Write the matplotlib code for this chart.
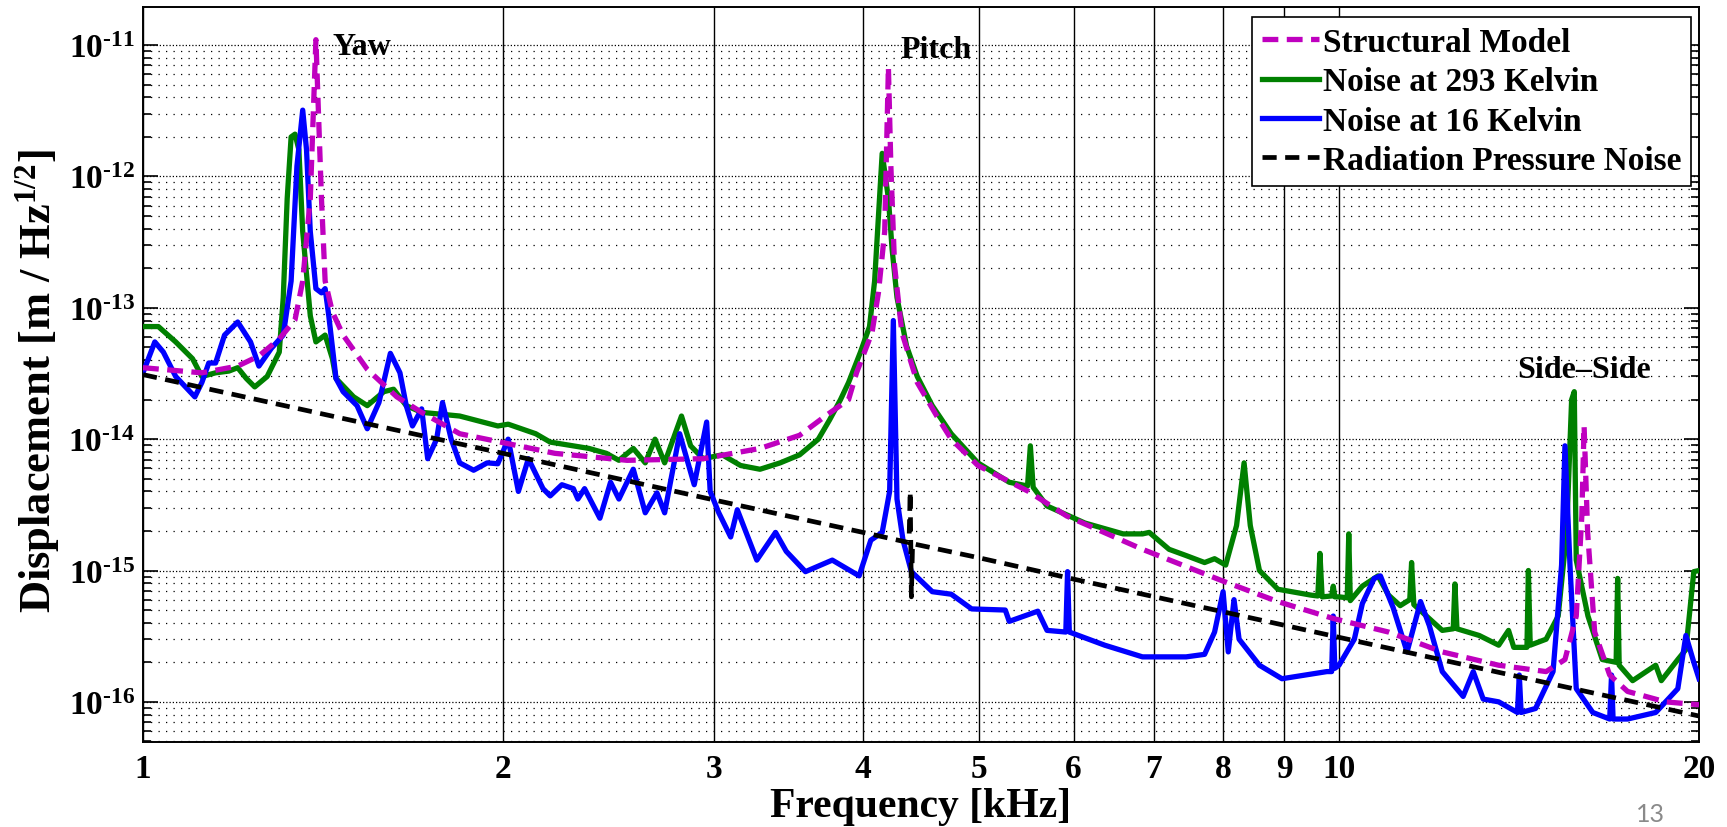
import numpy as np
import matplotlib.pyplot as plt
from matplotlib.ticker import FixedLocator, FixedFormatter, NullFormatter

plt.rcParams['font.family'] = ['Liberation Serif', 'DejaVu Serif']
plt.rcParams['font.weight'] = 'bold'
plt.rcParams['mathtext.fontset'] = 'custom'
plt.rcParams['mathtext.rm'] = 'Liberation Serif:bold'
plt.rcParams['mathtext.it'] = 'Liberation Serif:bold'
plt.rcParams['mathtext.bf'] = 'Liberation Serif:bold'

# Frequencia em kHz, deslocamento em m/sqrt(Hz)
f_modelo = [1.00, 1.12, 1.20, 1.25, 1.30, 1.34, 1.36, 1.38, 1.395, 1.41, 1.42, 1.44, 1.47,
            1.54, 1.63, 1.71, 1.84, 1.99, 2.21, 2.54, 2.94, 3.28, 3.54, 3.72, 3.89, 3.95,
            4.07, 4.12, 4.17, 4.20, 4.22, 4.25, 4.31, 4.44, 4.61, 4.74, 4.99, 5.50, 5.92,
            6.85, 8.0, 8.89, 9.9, 11.0, 12.2, 13.6, 14.9, 15.45, 15.79, 15.96, 16.03, 16.14,
            16.36, 16.84, 17.43, 18.75, 20.0]
d_modelo = [3.5e-14, 3.2e-14, 3.6e-14, 4.3e-14, 5.8e-14, 8.1e-14, 1.6e-13, 6.8e-13, 1.1e-11,
            6.8e-13, 1.6e-13, 9.3e-14, 6.2e-14, 3.4e-14, 2.1e-14, 1.6e-14, 1.1e-14, 9.5e-15,
            7.8e-15, 6.9e-15, 7.1e-15, 8.5e-15, 1.07e-14, 1.5e-14, 2.0e-14, 3.2e-14, 6.5e-14,
            1.3e-13, 3.8e-13, 6.8e-12, 1.2e-12, 2.1e-13, 6.5e-14, 2.7e-14, 1.5e-14, 1.0e-14,
            6.3e-15, 4.0e-15, 2.6e-15, 1.45e-15, 8.3e-16, 5.8e-16, 4.3e-16, 3.4e-16, 2.4e-16,
            1.9e-16, 1.7e-16, 2.1e-16, 4.5e-16, 2.6e-15, 1.26e-14, 1.95e-15, 3.4e-16, 1.6e-16,
            1.2e-16, 1.0e-16, 9.5e-17]

f_293 = [1.00, 1.03, 1.065, 1.10, 1.12, 1.15, 1.18, 1.20, 1.22, 1.24, 1.27, 1.30, 1.31, 1.32,
         1.33, 1.34, 1.35, 1.36, 1.38, 1.395, 1.42, 1.44, 1.45, 1.50, 1.54, 1.59, 1.62, 1.66,
         1.71, 1.84, 1.98, 2.02, 2.13, 2.19, 2.36, 2.44, 2.50, 2.57, 2.63, 2.68, 2.73, 2.82,
         2.87, 2.94, 3.05, 3.16, 3.28, 3.41, 3.54, 3.67, 3.75, 3.83, 3.89, 3.98, 4.05, 4.09,
         4.12, 4.15, 4.20, 4.23, 4.27, 4.35, 4.44, 4.57, 4.74, 4.99, 5.30, 5.49, 5.52, 5.55,
         5.70, 6.13, 6.60, 6.85, 6.94, 7.21, 7.45, 7.72, 7.87, 8.04, 8.21, 8.33, 8.43, 8.58,
         8.89, 9.47, 9.60, 9.64, 9.68, 9.86, 9.89, 9.92, 10.0, 10.16, 10.19, 10.22, 10.46,
         10.78, 11.0, 11.25, 11.46, 11.50, 11.55, 11.9, 12.2, 12.46, 12.50, 12.55, 13.1, 13.6,
         13.86, 14.0, 14.36, 14.40, 14.45, 14.9, 15.25, 15.5, 15.65, 15.73, 15.79, 16.15,
         16.6, 17.05, 17.10, 17.15, 17.6, 18.4, 18.6, 19.2, 19.5, 19.8, 20.0]
d_293 = [7.2e-14, 7.2e-14, 5.5e-14, 4.1e-14, 3.0e-14, 3.2e-14, 3.3e-14, 3.5e-14, 2.9e-14,
         2.5e-14, 3.0e-14, 4.6e-14, 1.2e-13, 6.8e-13, 2.0e-12, 2.1e-12, 1.6e-12, 3.8e-13,
         8.7e-14, 5.5e-14, 6.2e-14, 4.1e-14, 2.9e-14, 2.1e-14, 1.8e-14, 2.3e-14, 2.4e-14,
         1.8e-14, 1.6e-14, 1.5e-14, 1.26e-14, 1.3e-14, 1.1e-14, 9.5e-15, 8.5e-15, 7.8e-15,
         6.9e-15, 8.5e-15, 6.6e-15, 1.0e-14, 6.6e-15, 1.5e-14, 8.9e-15, 7.1e-15, 7.6e-15,
         6.3e-15, 5.9e-15, 6.6e-15, 7.6e-15, 1.0e-14, 1.4e-14, 2.0e-14, 2.7e-14, 4.6e-14,
         7.2e-14, 1.6e-13, 5.0e-13, 1.5e-12, 6.8e-13, 2.8e-13, 1.2e-13, 5.1e-14, 3.0e-14,
         1.8e-14, 1.1e-14, 6.6e-15, 4.7e-15, 4.4e-15, 8.9e-15, 4.3e-15, 3.1e-15, 2.3e-15,
         1.9e-15, 1.9e-15, 1.95e-15, 1.45e-15, 1.3e-15, 1.15e-15, 1.23e-15, 1.1e-15, 2.2e-15,
         6.6e-15, 2.2e-15, 1.0e-15, 7.2e-16, 6.5e-16, 6.4e-16, 1.35e-15, 6.3e-16, 6.4e-16,
         7.6e-16, 6.3e-16, 6.3e-16, 6.2e-16, 1.9e-15, 5.9e-16, 7.6e-16, 9.1e-16, 6.5e-16,
         5.4e-16, 6.0e-16, 1.15e-15, 5.5e-16, 4.3e-16, 3.5e-16, 3.6e-16, 7.9e-16, 3.6e-16,
         3.2e-16, 2.7e-16, 3.5e-16, 2.6e-16, 2.6e-16, 1.0e-15, 2.7e-16, 3.0e-16, 4.5e-16,
         1.95e-15, 2.0e-14, 2.3e-14, 1.2e-15, 4.5e-16, 2.1e-16, 2.0e-16, 8.7e-16, 1.9e-16,
         1.45e-16, 1.9e-16, 1.45e-16, 2.1e-16, 2.5e-16, 9.8e-16, 1.0e-15]

f_16 = [1.00, 1.023, 1.04, 1.065, 1.105, 1.12, 1.135, 1.15, 1.17, 1.20, 1.23, 1.25, 1.28,
        1.31, 1.33, 1.345, 1.36, 1.37, 1.38, 1.395, 1.41, 1.42, 1.43, 1.45, 1.47, 1.51, 1.54,
        1.575, 1.61, 1.64, 1.66, 1.68, 1.71, 1.73, 1.76, 1.78, 1.81, 1.84, 1.89, 1.94, 1.98,
        2.02, 2.06, 2.10, 2.16, 2.19, 2.24, 2.29, 2.31, 2.34, 2.41, 2.46, 2.50, 2.57, 2.63,
        2.69, 2.73, 2.81, 2.89, 2.96, 2.98, 3.03, 3.10, 3.14, 3.26, 3.38, 3.45, 3.58, 3.77,
        3.97, 4.06, 4.15, 4.21, 4.24, 4.27, 4.32, 4.39, 4.57, 4.74, 4.93, 5.26, 5.30, 5.60,
        5.70, 5.91, 5.93, 5.95, 6.37, 6.85, 7.45, 7.72, 7.87, 8.00, 8.08, 8.17, 8.25, 8.58,
        8.96, 9.37, 9.77, 9.86, 9.89, 9.92, 10.0, 10.3, 10.46, 10.7, 10.83, 11.1, 11.4, 11.7,
        11.9, 12.2, 12.7, 12.95, 13.2, 13.6, 14.1, 14.15, 14.2, 14.6, 15.1, 15.35, 15.45,
        15.6, 15.79, 16.3, 16.84, 16.9, 16.95, 17.43, 18.4, 19.2, 19.5, 19.8, 20.0]
d_16 = [3.2e-14, 5.5e-14, 4.6e-14, 3.0e-14, 2.1e-14, 2.7e-14, 3.8e-14, 3.8e-14, 6.2e-14,
        7.8e-14, 5.5e-14, 3.6e-14, 4.9e-14, 6.2e-14, 1.6e-13, 1.2e-12, 3.2e-12, 1.6e-12,
        3.8e-13, 1.4e-13, 1.3e-13, 1.4e-13, 8.7e-14, 2.9e-14, 2.3e-14, 1.8e-14, 1.2e-14,
        1.9e-14, 4.5e-14, 3.2e-14, 1.8e-14, 1.26e-14, 1.7e-14, 7.1e-15, 1.0e-14, 1.9e-14,
        1.0e-14, 6.6e-15, 5.8e-15, 6.6e-15, 6.5e-15, 1.0e-14, 4.0e-15, 7.1e-15, 4.2e-15,
        3.7e-15, 4.5e-15, 4.2e-15, 3.5e-15, 4.2e-15, 2.5e-15, 4.7e-15, 3.5e-15, 5.9e-15,
        2.75e-15, 3.9e-15, 2.75e-15, 1.1e-14, 4.5e-15, 1.35e-14, 4.0e-15, 2.75e-15, 1.8e-15,
        2.9e-15, 1.2e-15, 1.95e-15, 1.4e-15, 9.8e-16, 1.2e-15, 9.1e-16, 1.7e-15, 1.95e-15,
        4.0e-15, 8.0e-14, 3.5e-15, 1.7e-15, 9.8e-16, 6.9e-16, 6.6e-16, 5.1e-16, 5.0e-16,
        4.1e-16, 4.9e-16, 3.5e-16, 3.4e-16, 9.8e-16, 3.4e-16, 2.7e-16, 2.2e-16, 2.2e-16,
        2.3e-16, 3.4e-16, 6.9e-16, 2.4e-16, 6.0e-16, 3.0e-16, 1.9e-16, 1.5e-16, 1.6e-16,
        1.7e-16, 1.7e-16, 4.5e-16, 1.8e-16, 1.9e-16, 3.0e-16, 5.6e-16, 8.7e-16, 9.1e-16,
        5.2e-16, 2.4e-16, 5.8e-16, 3.8e-16, 1.7e-16, 1.1e-16, 1.7e-16, 1.05e-16, 1.0e-16,
        8.3e-17, 1.6e-16, 8.3e-17, 8.9e-17, 1.7e-16, 1.1e-15, 8.9e-15, 1.1e-15, 1.26e-16,
        8.3e-17, 7.4e-17, 1.6e-16, 7.4e-17, 7.4e-17, 8.3e-17, 1.26e-16, 3.2e-16, 2.0e-16,
        1.5e-16]

f_rad = [1.0, 1.5, 2.0, 3.0, 4.0, 4.37, 4.38, 4.39, 4.40, 5.0, 6.0, 8.0, 10.0, 15.0, 20.0]
d_rad = [3.1e-14, 1.38e-14, 7.8e-15, 3.45e-15, 1.95e-15, 1.63e-15, 4.0e-15, 6.3e-16,
         1.6e-15, 1.25e-15, 8.6e-16, 4.85e-16, 3.1e-16, 1.38e-16, 7.8e-17]

xticks = [1, 2, 3, 4, 5, 6, 7, 8, 9, 10, 20]
xlabels = ['1', '2', '3', '4', '5', '6', '7', '8', '9', '10', '20']
expoentes = [-16, -15, -14, -13, -12, -11]

yticks = [10.0 ** e for e in expoentes]
ylabels = ['$10^{\u2010%d}$' % (-e) for e in expoentes]
yminor = [m * 10.0 ** e for e in range(-17, -10) for m in range(2, 10)]
yminor = [v for v in yminor if 4.95e-17 < v < 1.95e-11]

fig = plt.figure(figsize=(17.27, 8.28), dpi=100)
ax = fig.add_axes([0.0828, 0.1027, 0.9010, 0.8876])

ax.plot(f_293, d_293, color=(0, 0.5, 0), lw=3.8, zorder=3, label='Noise at 293 Kelvin')
ax.plot(f_16, d_16, color=(0, 0, 1), lw=3.8, zorder=4, label='Noise at 16 Kelvin')
ax.plot(f_modelo, d_modelo, color=(0.75, 0, 0.75), lw=3.8, ls=(0, (3.0, 1.6)), zorder=5,
        label='Structural Model')
ax.plot(f_rad, d_rad, color='k', lw=3.4, ls=(0, (3.0, 1.8)), zorder=6,
        label='Radiation Pressure Noise')

ax.set_xscale('log')
ax.set_yscale('log')
ax.set_xlim(1, 20)
ax.set_ylim(4.95e-17, 1.95e-11)

ax.xaxis.set_major_locator(FixedLocator(xticks))
ax.xaxis.set_major_formatter(FixedFormatter(xlabels))
ax.xaxis.set_minor_locator(FixedLocator([]))
ax.yaxis.set_major_locator(FixedLocator(yticks))
ax.yaxis.set_major_formatter(FixedFormatter(ylabels))
ax.yaxis.set_minor_locator(FixedLocator(yminor))
ax.yaxis.set_minor_formatter(NullFormatter())

ax.set_axisbelow(True)
ax.grid(True, axis='x', which='major', color='k', ls='-', lw=1.0)
ax.grid(True, axis='y', which='major', color='k', ls=(0, (1, 1.6)), lw=0.9)
ax.grid(True, axis='y', which='minor', color='k', ls=(0, (1, 5)), lw=0.9)

ax.tick_params(axis='both', which='both', direction='in', top=True, right=True,
               labelsize=24, width=1.2)
ax.tick_params(axis='y', which='major', length=11, pad=6)
ax.tick_params(axis='y', which='minor', length=6)
ax.tick_params(axis='x', which='major', length=0, pad=8)
for s in ax.spines.values():
    s.set_linewidth(1.4)

ax.set_xlabel('Frequency [kHz]', fontsize=30, fontweight='bold', va='center')
ax.xaxis.set_label_coords(0.5, -0.087)
ax.set_ylabel('Displacement [m / Hz$^{1/2}$]', fontsize=32, fontweight='bold', va='center')
ax.yaxis.set_label_coords(-0.0675, 0.4925)

# Anotacoes dos modos
ax.text(1.44, 9.8e-12, 'Yaw', fontsize=23, fontweight='bold', ha='left', va='center')
ax.text(4.30, 9.3e-12, 'Pitch', fontsize=23, fontweight='bold', ha='left', va='center')
ax.text(16.03, 3.42e-14, 'Side\u2013Side', fontsize=23, fontweight='bold', ha='center', va='center')

h, l = ax.get_legend_handles_labels()
ordem = [2, 0, 1, 3]
leg = ax.legend([h[i] for i in ordem], [l[i] for i in ordem], loc='upper right',
                bbox_to_anchor=(0.9949, 0.9864), borderaxespad=0, fontsize=24,
                handlelength=1.7, handletextpad=0.12, labelspacing=0.25, borderpad=0.3,
                fancybox=False, framealpha=1, edgecolor='k')
leg.get_frame().set_linewidth(1.2)
leg.set_zorder(10)

fig.text(1650 / 1727, 1 - 815 / 828, '13', fontsize=18, color='#8a8a8a',
         family=['Lato', 'DejaVu Sans'], fontweight='normal', ha='center', va='center')

fig.savefig('out.png', dpi=100)
